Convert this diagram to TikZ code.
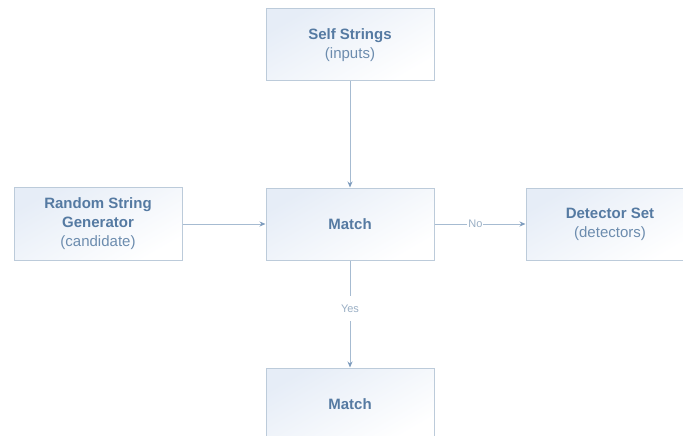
\documentclass[tikz,border=0pt]{standalone}
\usepackage{fontspec}
\setmainfont{Liberation Sans}
\usetikzlibrary{arrows.meta}
\definecolor{boxline}{HTML}{BCCBDA}
\definecolor{boxtop}{HTML}{E6EDF7}
\definecolor{titlecol}{HTML}{557AA2}
\definecolor{subcol}{HTML}{6C8CAE}
\definecolor{wire}{HTML}{A6BBD1}
\definecolor{tipcol}{HTML}{7E9CBE}
\definecolor{tagcol}{HTML}{9AAFC5}
\tikzset{
  x=1pt, y=-1pt,
  block/.style={draw=boxline, line width=1pt, minimum width=168pt, minimum height=72pt,
    shading=axis, top color=boxtop, bottom color=white, shading angle=30,
    align=center, font=\fontsize{15}{19}\selectfont, text=subcol, inner sep=0pt},
  flow/.style={draw=wire, line width=1pt, -{Stealth[length=6pt,width=5pt,color=tipcol]}},
  tag/.style={fill=white, text=tagcol, font=\fontsize{11}{13}\selectfont, inner xsep=1pt},
}
\newcommand{\ttl}[1]{\textcolor{titlecol}{\textbf{#1}}}
\begin{document}
\begin{tikzpicture}
  \useasboundingbox[fill=white] (0,0) rectangle (683,436);
  \node[block] (self) at (350,45) {\ttl{Self Strings}\\(inputs)};
  \node[block, minimum height=73pt] (gen) at (98,224) {\ttl{Random String}\\\ttl{Generator}\\(candidate)};
  \node[block] (match) at (350,224) {\ttl{Match}};
  \node[block] (det) at (610,224) {\ttl{Detector Set}\\(detectors)};
  \node[block] (out) at (350,404) {\ttl{Match}};
  \draw[flow] (self) -- (match);
  \draw[flow] (gen) -- (match);
  \draw[flow] (match) -- node[tag, pos=0.45] (no) {No} (det);
  \draw[flow] (match) -- node[tag, inner ysep=9pt, pos=0.45] (yes) {Yes} (out);
\end{tikzpicture}
\end{document}
